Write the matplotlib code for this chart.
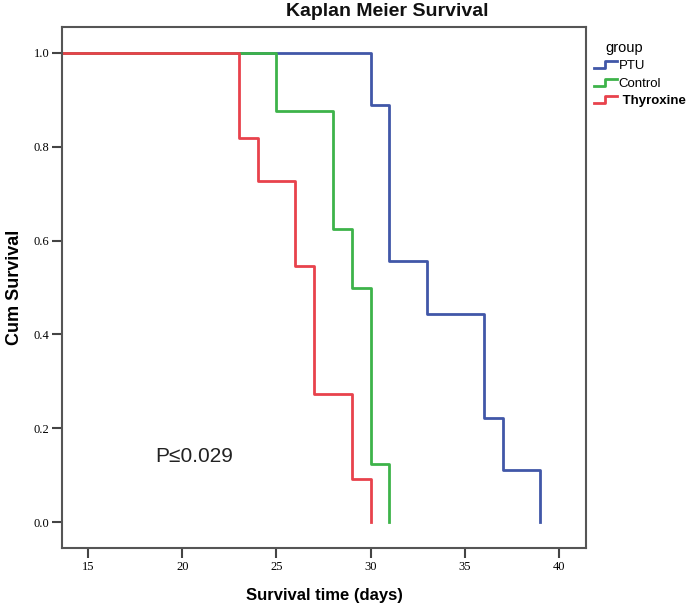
import matplotlib
matplotlib.use("Agg")
import matplotlib.pyplot as plt
from matplotlib.legend_handler import HandlerBase
from matplotlib.lines import Line2D

# Kaplan-Meier step values
groups = ["PTU", "Control", "Thyroxine"]
ptu_times = [0, 30, 31, 33, 36, 37, 39]
ptu_surv = [1.0, 0.889, 0.556, 0.444, 0.222, 0.111, 0.0]
ctrl_times = [0, 25, 28, 29, 30, 31]
ctrl_surv = [1.0, 0.875, 0.625, 0.5, 0.125, 0.0]
thy_times = [0, 23, 24, 26, 27, 29, 30]
thy_surv = [1.0, 0.818, 0.727, 0.545, 0.273, 0.091, 0.0]

colors = ["#4157a8", "#3db34a", "#e8424c"]
x_ticks = [15, 20, 25, 30, 35, 40]
y_ticks = [0.0, 0.2, 0.4, 0.6, 0.8, 1.0]


class StepHandler(HandlerBase):
    def create_artists(self, legend, orig_handle, xdescent, ydescent,
                       width, height, fontsize, trans):
        x0, x1 = -xdescent, -xdescent + width
        y0, y1 = -ydescent + 0.1 * height, -ydescent + 0.85 * height
        xm = x0 + 0.5 * width
        line = Line2D([x0, xm, xm, x1], [y0, y0, y1, y1],
                      color=orig_handle.get_color(), lw=2)
        line.set_transform(trans)
        return [line]


fig = plt.figure(figsize=(6.97, 6.15), dpi=100)
ax = fig.add_axes([62 / 697, 1 - 548 / 615, 524 / 697, 521 / 615])

handles = []
for t, s, c, name in zip([ptu_times, ctrl_times, thy_times],
                         [ptu_surv, ctrl_surv, thy_surv], colors, groups):
    ln, = ax.step(t, s, where="post", color=c, lw=2, label=name)
    handles.append(ln)

ax.set_xlim(13.62, 41.43)
ax.set_ylim(-0.055, 1.055)
ax.set_xticks(x_ticks)
ax.set_yticks(y_ticks)
ax.set_xticklabels([str(v) for v in x_ticks], family="Liberation Serif", fontsize=9)
ax.set_yticklabels(["%.1f" % v for v in y_ticks], family="Liberation Serif", fontsize=9)
ax.tick_params(direction="out", length=7, width=1.5, color="#444444", pad=2)
for sp in ax.spines.values():
    sp.set_color("#555555")
    sp.set_linewidth(1.5)

ax.set_xlabel("Survival time (days)", family="Liberation Sans", fontsize=12,
              fontweight="bold", labelpad=11)
ax.set_ylabel("Cum Survival", family="Liberation Sans", fontsize=13,
              fontweight="bold", labelpad=8)
fig.text(387 / 697, 1 - 11 / 615, "Kaplan Meier Survival", family="Liberation Sans",
         fontsize=14, fontweight="bold", ha="center", va="center", color="#111111")

ax.text(18.56, 0.141, "P\u22640.029", fontsize=15, family=["Liberation Sans", "DejaVu Sans"],
        ha="left", va="center", color="#222222")

leg = fig.legend(handles, ["PTU", "Control", " Thyroxine"], title="group",
                 handler_map={Line2D: StepHandler()},
                 loc="upper left", bbox_to_anchor=(587 / 697, 1 - 34 / 615),
                 frameon=False, fontsize=9.5, title_fontsize=10.5, borderpad=0,
                 handlelength=1.8, handletextpad=0.1, labelspacing=0.4)
leg._legend_box.align = "left"
for txt in leg.get_texts():
    txt.set_family("Liberation Sans")
leg.get_texts()[2].set_fontweight("bold")
leg.get_title().set_family("Liberation Sans")
leg.get_title().set_position((12, 0))

fig.savefig("out.png", dpi=100)
